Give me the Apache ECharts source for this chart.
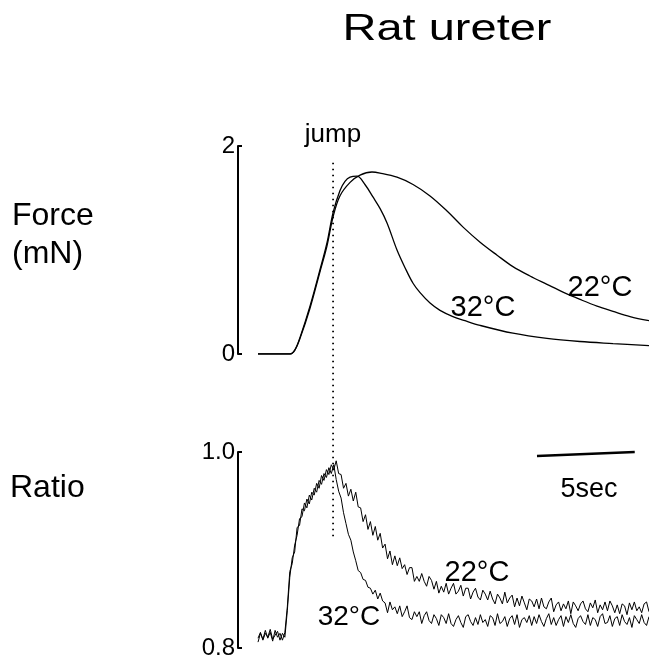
<!DOCTYPE html>
<html><head><meta charset="utf-8">
<script src="https://cdn.jsdelivr.net/npm/echarts@6/dist/echarts.min.js"></script>
<style>html,body{margin:0;padding:0;background:#fff}#c{width:649px;height:663px}</style>
</head><body><div id="c"></div><script>
// ---- data ----
const forceTime32 = [0, 1.64, 1.89, 2.15, 2.66, 3.17, 3.53, 3.84, 4.19, 4.45, 4.71, 5.06, 5.47, 5.88, 6.24, 6.60, 7.11, 7.52, 7.93, 8.29, 8.80, 9.31, 9.97, 10.59, 11.36, 13.04, 14.78, 16.47, 18.16, 20.0];
const force32 = [0, 0, 0.04, 0.16, 0.46, 0.81, 1.07, 1.36, 1.57, 1.66, 1.70, 1.71, 1.63, 1.51, 1.40, 1.26, 1.00, 0.83, 0.68, 0.59, 0.49, 0.42, 0.36, 0.32, 0.275, 0.20, 0.15, 0.12, 0.10, 0.08];
const forceTime22 = [0, 1.64, 1.89, 2.15, 2.66, 3.17, 3.53, 3.84, 4.19, 4.71, 5.22, 5.83, 6.24, 7.11, 7.93, 8.80, 9.67, 10.49, 11.36, 12.23, 13.04, 13.91, 14.78, 15.60, 16.47, 17.34, 18.16, 19.03, 20.0];
const force22 = [0, 0, 0.04, 0.15, 0.44, 0.79, 1.04, 1.32, 1.52, 1.65, 1.72, 1.75, 1.74, 1.70, 1.63, 1.52, 1.375, 1.22, 1.075, 0.95, 0.84, 0.75, 0.67, 0.595, 0.525, 0.46, 0.41, 0.36, 0.32];

const ratioStep = 0.125; // seconds between ratio samples
const ratio32 = [
 0.806,0.815,0.809,0.818,0.810,0.816,0.807,0.818,0.811,0.815,0.808,0.816,
 0.842,0.878,0.886,0.905,0.915,0.932,0.934,0.948,0.943,0.956,
 0.951,0.963,0.959,0.971,0.967,0.978,0.974,0.984,0.978,0.987,
 0.972,0.960,0.953,0.938,0.927,0.916,0.910,0.898,0.889,0.879,0.877,0.870,
 0.869,0.862,0.861,0.855,0.859,0.850,0.856,0.848,0.846,0.836,0.847,0.839,
 0.842,0.835,0.843,0.832,0.837,0.843,0.831,0.829,0.837,0.832,
 0.837,0.825,0.833,0.837,0.828,0.825,0.834,0.830,0.823,0.834,0.831,0.825,0.835,0.825,0.822,
 0.829,0.833,0.826,0.821,0.832,0.834,0.827,0.823,0.831,0.824,
 0.834,0.826,0.829,0.822,0.833,0.831,0.823,0.835,0.825,0.827,
 0.832,0.822,0.830,0.833,0.824,0.834,0.821,0.829,0.831,0.826,
 0.833,0.823,0.832,0.825,0.834,0.827,0.822,0.830,0.835,0.824,
 0.831,0.823,0.829,0.833,0.822,0.832,0.826,0.834,0.825,0.821,
 0.830,0.833,0.827,0.824,0.834,0.823,0.831,0.829,0.822,0.832,
 0.835,0.825,0.826,0.833,0.822,0.830,0.832,0.823,0.834,0.827,
 0.824,0.831,0.821,0.833,0.829,0.825,0.834,0.826,0.823,0.832];
const ratio22 = [
 0.810,0.816,0.808,0.815,0.811,0.819,0.809,0.813,0.817,0.808,0.815,0.811,
 0.838,0.872,0.892,0.898,0.923,0.925,0.942,0.940,0.952,0.947,
 0.959,0.956,0.968,0.963,0.976,0.971,0.982,0.977,0.987,0.982,
 0.991,0.978,0.977,0.963,0.968,0.955,0.962,0.950,0.959,0.944,0.943,0.929,
 0.936,0.921,0.929,0.915,0.924,0.910,0.917,0.902,0.906,0.891,0.899,0.885,
 0.894,0.884,0.892,0.881,0.885,0.875,0.882,0.882,0.868,0.873,
 0.868,0.876,0.868,0.863,0.873,0.869,0.860,0.868,0.856,0.863,
 0.857,0.866,0.855,0.861,0.866,0.855,0.858,0.864,0.853,0.861,
 0.861,0.850,0.857,0.861,0.852,0.849,0.859,0.855,0.849,0.858,
 0.850,0.845,0.855,0.851,0.845,0.857,0.846,0.851,0.854,0.842,
 0.851,0.843,0.853,0.846,0.839,0.850,0.848,0.842,0.850,0.840,
 0.851,0.842,0.840,0.847,0.851,0.837,0.844,0.847,0.838,0.845,
 0.840,0.848,0.835,0.847,0.843,0.838,0.845,0.848,0.840,0.837,
 0.846,0.841,0.849,0.836,0.844,0.839,0.847,0.838,0.848,0.843,
 0.836,0.844,0.835,0.845,0.843,0.834,0.846,0.839,0.847,0.838,
 0.842,0.836,0.845,0.847,0.837];

const forceTicks = [0, 2];
const ratioTicks = [0.8, 1.0];
const jumpTime = 3.84;        // s
const jumpTopForce = 1.84;    // dotted marker extent (mN)
const jumpBottomRatio = 0.91; // dotted marker extent (ratio)
const scaleBarStart = 14.27;  // s
const scaleBarLength = 5;     // s
const scaleBarRatio = 0.998;

// ---- chart ----
const FONT = "'Liberation Sans', Arial, Helvetica, sans-serif";
const chart = echarts.init(document.getElementById('c'), null, {renderer: 'canvas'});

function yAxisCfg(grid, ticks, fmt) {
  return {
    gridIndex: grid, type: 'value', min: ticks[0], max: ticks[1], interval: ticks[1] - ticks[0],
    offset: 20,
    axisLine: {show: true, onZero: false, lineStyle: {color: '#000', width: 2}},
    axisTick: {show: true, inside: true, length: 4, lineStyle: {color: '#000', width: 2}},
    axisLabel: {margin: 3, color: '#000', fontSize: 24, fontFamily: FONT, formatter: fmt},
    splitLine: {show: false}
  };
}

const lineBase = {type: 'line', showSymbol: false, symbol: 'none', silent: true};

const option = {
  animation: false,
  backgroundColor: '#fff',
  grid: [
    {left: 258, width: 391, top: 146, height: 208, outerBoundsMode: 'none', containLabel: false},
    {left: 258, width: 391, top: 452, height: 196, outerBoundsMode: 'none', containLabel: false}
  ],
  xAxis: [
    {gridIndex: 0, type: 'value', min: 0, max: 20, show: false},
    {gridIndex: 1, type: 'value', min: 0, max: 20, show: false}
  ],
  yAxis: [
    yAxisCfg(0, forceTicks, v => String(Math.round(v))),
    yAxisCfg(1, ratioTicks, v => v.toFixed(1))
  ],
  series: [
    Object.assign({}, lineBase, {name: 'Force 32', xAxisIndex: 0, yAxisIndex: 0, smooth: 0.35,
      data: forceTime32.map((t, i) => [t, force32[i]]), lineStyle: {color: '#000', width: 1.3}}),
    Object.assign({}, lineBase, {name: 'Force 22', xAxisIndex: 0, yAxisIndex: 0, smooth: 0.35,
      data: forceTime22.map((t, i) => [t, force22[i]]), lineStyle: {color: '#000', width: 1.3}}),
    Object.assign({}, lineBase, {name: 'Ratio 32', xAxisIndex: 1, yAxisIndex: 1,
      data: ratio32.map((v, i) => [i * ratioStep, v]), lineStyle: {color: '#000', width: 1}}),
    Object.assign({}, lineBase, {name: 'Ratio 22', xAxisIndex: 1, yAxisIndex: 1,
      data: ratio22.map((v, i) => [i * ratioStep, v]), lineStyle: {color: '#000', width: 1}})
  ]
};
chart.setOption(option);

const jx = chart.convertToPixel({xAxisIndex: 0}, jumpTime);
const jy1 = chart.convertToPixel({yAxisIndex: 0}, jumpTopForce);
const jy2 = chart.convertToPixel({yAxisIndex: 1}, jumpBottomRatio);
const s1 = chart.convertToPixel({xAxisIndex: 1, yAxisIndex: 1}, [scaleBarStart, scaleBarRatio]);
const s2 = chart.convertToPixel({xAxisIndex: 1, yAxisIndex: 1}, [scaleBarStart + scaleBarLength, scaleBarRatio]);

function txt(text, x, y, size, align, extra) {
  return Object.assign({type: 'text', x: x, y: y, silent: true,
    style: {text: text, font: size + 'px ' + FONT, fill: '#000', textAlign: align || 'center',
      textVerticalAlign: 'middle', align: align || 'center', verticalAlign: 'middle'}}, extra || {});
}

chart.setOption({
  graphic: [
    {type: 'line', silent: true, shape: {x1: jx, y1: jy1, x2: jx, y2: jy2},
      style: {stroke: '#000', lineWidth: 1.8, lineDash: [1.5, 4.5]}},
    {type: 'line', silent: true, shape: {x1: s1[0], y1: s1[1] + 2, x2: s2[0], y2: s2[1] - 2},
      style: {stroke: '#000', lineWidth: 2.5}},
    txt('Rat ureter', 447, 30, 37, 'center', {scaleX: 1.27}),
    txt('Force', 12, 216, 32, 'left'),
    txt('(mN)', 12, 254, 32, 'left'),
    txt('Ratio', 10, 488, 32, 'left'),
    txt('jump', 333, 135, 26, 'center'),
    txt('22°C', 600, 288, 29, 'center'),
    txt('32°C', 483, 308, 29, 'center'),
    txt('22°C', 477, 573, 29, 'center'),
    txt('32°C', 349, 617, 28, 'center'),
    txt('5sec', 589, 490, 27, 'center')
  ]
});
</script></body></html>
